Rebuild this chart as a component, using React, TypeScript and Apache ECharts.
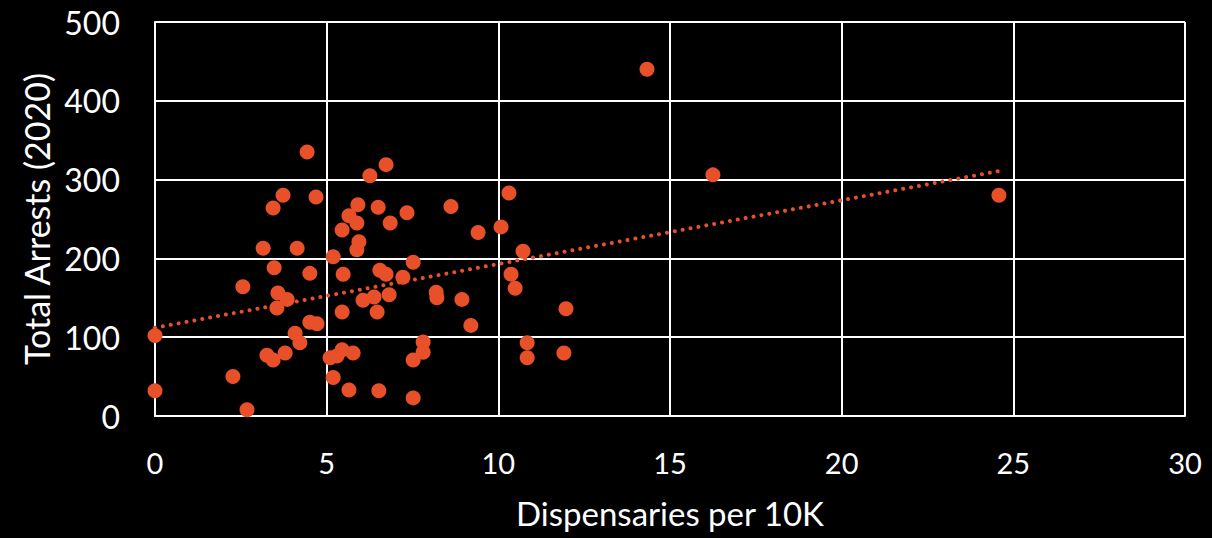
import React, { useEffect, useRef } from "react";
import * as echarts from "echarts";

const dispensaries: number[] = [
  0, 0, 2.27, 2.56, 2.68, 3.15, 3.26, 3.44, 3.44, 3.47, 3.55, 3.58, 3.73, 3.79, 3.85,
  4.14, 4.08, 4.22, 4.43, 4.51, 4.51, 4.69, 4.72, 5.19, 5.1, 5.3, 5.45, 5.77, 5.19,
  5.45, 5.48, 5.45, 5.65, 5.65, 5.88, 5.91, 5.94, 5.88, 6.06, 6.26, 6.38, 6.47, 6.5,
  6.52, 6.55, 6.73, 6.73, 6.82, 6.85, 7.22, 7.34, 7.52, 7.52, 7.52, 7.81, 7.81, 8.19,
  8.21, 8.62, 8.94, 9.2, 9.41, 10.08, 10.31, 10.37, 10.49, 10.72, 10.84, 10.84, 11.91,
  11.97, 14.33, 16.25, 24.58,
];
const arrests: number[] = [
  102, 32, 50, 164, 8, 213, 77, 264, 71, 188, 137, 156, 280, 80, 148,
  213, 105, 93, 335, 181, 119, 278, 117, 202, 74, 76, 84, 80, 49,
  236, 180, 132, 254, 33, 245, 268, 221, 211, 147, 305, 151, 132, 265,
  32, 185, 180, 319, 154, 245, 176, 258, 195, 71, 23, 94, 81, 157,
  150, 266, 148, 115, 233, 240, 283, 180, 162, 209, 93, 74, 80,
  136, 440, 306, 280,
];
const trendX: number[] = [0, 24.6];
const trendY: number[] = [112, 311];
const xTicks = { min: 0, max: 30, interval: 5 };
const yTicks = { min: 0, max: 500, interval: 100 };

const ORANGE = "#E8502A";
const FONT = "Lato";

export default function App() {
  const ref = useRef<HTMLDivElement>(null);
  useEffect(() => {
    document.body.style.margin = "0";
    document.body.style.background = "#000";
    const chart = echarts.init(ref.current!, null, { renderer: "svg" });
    const points = dispensaries.map((x, i) => [x, arrests[i]]);
    const trend = trendX.map((x, i) => [x, trendY[i]]);
    chart.setOption({
      animation: false,
      backgroundColor: "#000",
      grid: { left: 155, right: 27, top: 22, bottom: 122 },
      xAxis: {
        type: "value",
        min: xTicks.min,
        max: xTicks.max,
        interval: xTicks.interval,
        name: "Dispensaries per 10K",
        nameLocation: "middle",
        nameGap: 80,
        nameTextStyle: { color: "#fff", fontSize: 33, fontFamily: FONT },
        axisLine: { show: true, lineStyle: { color: "#fff", width: 2 } },
        axisTick: { show: false },
        axisLabel: { color: "#fff", fontSize: 29, fontFamily: FONT, margin: 32 },
        splitLine: { show: true, lineStyle: { color: "#fff", width: 2 } },
      },
      yAxis: {
        type: "value",
        min: yTicks.min,
        max: yTicks.max,
        interval: yTicks.interval,
        name: "Total Arrests (2020)",
        nameLocation: "middle",
        nameGap: 100,
        nameTextStyle: { color: "#fff", fontSize: 34, fontFamily: FONT },
        axisLine: { show: true, lineStyle: { color: "#fff", width: 2 } },
        axisTick: { show: false },
        axisLabel: { color: "#fff", fontSize: 32, fontFamily: FONT, margin: 35 },
        splitLine: { show: true, lineStyle: { color: "#fff", width: 2 } },
      },
      series: [
        {
          type: "line",
          data: trend,
          showSymbol: false,
          symbol: "none",
          lineStyle: { color: ORANGE, width: 4, type: [0.01, 8], cap: "round" },
          z: 1,
        },
        {
          type: "scatter",
          data: points,
          symbolSize: 15,
          itemStyle: { color: ORANGE, opacity: 1 },
          z: 2,
        },
      ],
    });
    return () => chart.dispose();
  }, []);
  return <div ref={ref} style={{ width: 1212, height: 538 }} />;
}
